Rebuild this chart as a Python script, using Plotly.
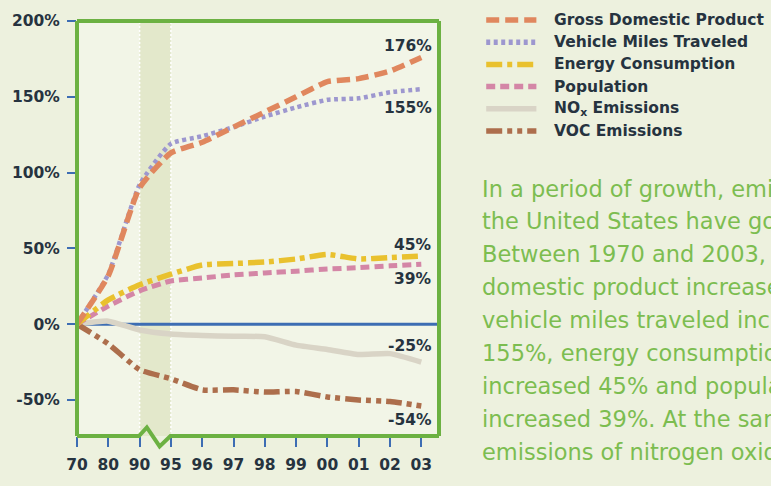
import plotly.graph_objects as go

# ---- data ----
years = ["70", "80", "90", "95", "96", "97", "98", "99", "00", "01", "02", "03"]
gdp = [0, 32, 90, 113, 120, 130, 140, 150, 160, 162, 167, 176]
vmt = [0, 33, 92, 119, 124, 130, 137, 143, 148, 149, 153, 155]
energy = [0, 16, 26, 33, 39, 40, 41, 43, 46, 43, 44, 45]
population = [0, 12, 22, 28.5, 30.5, 32.5, 33.8, 35, 36.4, 37.3, 38.5, 39.5]
nox = [0, 2, -3.8, -6.5, -7.5, -8, -8.3, -13.8, -16.7, -20, -19.4, -25]
voc = [0, -13, -30, -36, -43.3, -43.3, -44.8, -44.4, -48, -50, -51, -54]
end_labels = [176, 155, 45, 39, -25, -54]
series_names = ["Gross Domestic Product", "Vehicle Miles Traveled", "Energy Consumption",
                "Population", "NO<sub>x</sub> Emissions", "VOC Emissions"]
y_ticks = [-50, 0, 50, 100, 150, 200]
body_lines = [
    "In a period of growth, emissions in",
    "the United States have gone down.",
    "Between 1970 and 2003, gross",
    "domestic product increased 176%,",
    "vehicle miles traveled increased",
    "155%, energy consumption",
    "increased 45% and population",
    "increased 39%. At the same time,",
    "emissions of nitrogen oxides",
]

# ---- styles ----
colors = ["#e0875e", "#9d97cf", "#e9c12e", "#d486a6", "#d9d4c6", "#ad6e4c"]
dashes = ["13px,6px", "4px,3.5px", "16px,5px,5px,5px", "9px,5px", "solid",
          "16px,5px,5px,5px,5px,5px"]
widths = [5.5, 4.5, 5.5, 5, 5.5, 5.5]
label_shift = [11, -19, 11, -15, 16, -14]

TXT = "#26333f"
GREEN = "#6cb142"
BLUE = "#3d6db3"
FONT = "DejaVu Sans"

L, R_PX, T, B_PX = 71, 439, 15, 451
W, H = 771, 486
plot_w = R_PX - L
plot_h = B_PX - T
xmax = 11 * plot_w / (421 - L)
ymin, ymax = -73.75, 200

def px_x(p):
    return (p - L) / plot_w

def px_y(p):
    return (B_PX - p) / plot_h

fig = go.Figure()
xi = list(range(len(years)))
all_series = [gdp, vmt, energy, population, nox, voc]
order = [4, 5, 3, 2, 1, 0]
for k in order:
    fig.add_trace(go.Scatter(
        x=xi, y=all_series[k], mode="lines", name=series_names[k],
        line=dict(color=colors[k], width=widths[k], dash=dashes[k],
                  shape="spline", smoothing=0.5),
        showlegend=False, hoverinfo="skip"))

shapes = []
shapes.append(dict(type="rect", xref="x", yref="y", x0=2, x1=3, y0=ymin, y1=ymax,
                   fillcolor="#e3e8cb", line=dict(width=0), layer="below"))
for xv in (2, 3):
    shapes.append(dict(type="line", xref="x", yref="y", x0=xv, x1=xv, y0=ymin, y1=ymax,
                       line=dict(color="#ffffff", width=1.5, dash="2px,2px"), layer="below"))
shapes.append(dict(type="line", xref="x", yref="y", x0=0, x1=xmax, y0=0, y1=0,
                   line=dict(color=BLUE, width=3), layer="below"))
shapes.append(dict(type="line", xref="paper", yref="paper", x0=0, x1=0, y0=0, y1=1,
                   line=dict(color=GREEN, width=4)))
shapes.append(dict(type="line", xref="paper", yref="paper", x0=0, x1=1, y0=1, y1=1,
                   line=dict(color=GREEN, width=4)))
shapes.append(dict(type="line", xref="paper", yref="paper", x0=1, x1=1, y0=0, y1=1,
                   line=dict(color=GREEN, width=4)))
zz = [(L, B_PX), (134, B_PX), (142, B_PX - 9), (155, B_PX + 11), (166, B_PX), (R_PX, B_PX)]
path = "M " + " L ".join(f"{px_x(a)},{px_y(b)}" for a, b in zz)
shapes.append(dict(type="path", xref="paper", yref="paper", path=path,
                   line=dict(color=GREEN, width=4)))

annotations = []
for k, v in enumerate(end_labels):
    annotations.append(dict(xref="paper", yref="y", x=px_x(434), y=all_series[k][-1],
                            yshift=label_shift[k], text=f"{v}%", showarrow=False,
                            xanchor="right", yanchor="middle",
                            font=dict(family=FONT, size=15.5, color=TXT, weight="bold")))

leg_y0, leg_dy = 14, 23.3
for k in range(6):
    yy = px_y(leg_y0 + k * leg_dy)
    shapes.append(dict(type="line", xref="paper", yref="paper",
                       x0=px_x(487), x1=px_x(538), y0=yy, y1=yy,
                       line=dict(color=colors[k], width=5.5, dash=dashes[k])))
    annotations.append(dict(xref="paper", yref="paper", x=px_x(554), y=yy,
                            text=series_names[k], showarrow=False, xanchor="left",
                            yanchor="middle",
                            font=dict(family=FONT, size=15.5, color=TXT, weight="bold")))

for i, line in enumerate(body_lines):
    annotations.append(dict(xref="paper", yref="paper", x=px_x(481), y=px_y(191 + i * 34.6),
                            text=line, showarrow=False, xanchor="left", yanchor="middle",
                            font=dict(family=FONT, size=22.5, color="#7cbd50")))

fig.update_layout(
    width=W, height=H,
    margin=dict(l=L, r=W - R_PX, t=T, b=H - B_PX, pad=0),
    paper_bgcolor="#edf1de",
    plot_bgcolor="#f2f5e7",
    shapes=shapes,
    annotations=annotations,
    showlegend=False,
    xaxis=dict(range=[0, xmax], tickvals=xi, ticktext=years, showgrid=False,
               zeroline=False, showline=False, ticks="outside", ticklen=10,
               tickwidth=1.5, tickcolor=BLUE, ticklabelstandoff=4,
               tickfont=dict(family=FONT, size=15.5, color=TXT, weight="bold"),
               fixedrange=True),
    yaxis=dict(range=[ymin, ymax], tickvals=y_ticks,
               ticktext=[f"{v}%" for v in y_ticks], showgrid=False, zeroline=False,
               showline=False, ticks="outside", ticklen=9, tickwidth=1.5,
               tickcolor=BLUE, ticklabelstandoff=4,
               tickfont=dict(family=FONT, size=15.5, color=TXT, weight="bold"),
               fixedrange=True),
)

fig.write_html("out.html", config={"displayModeBar": False},
               post_script="document.body.style.margin='0';document.body.style.overflow='hidden';")
